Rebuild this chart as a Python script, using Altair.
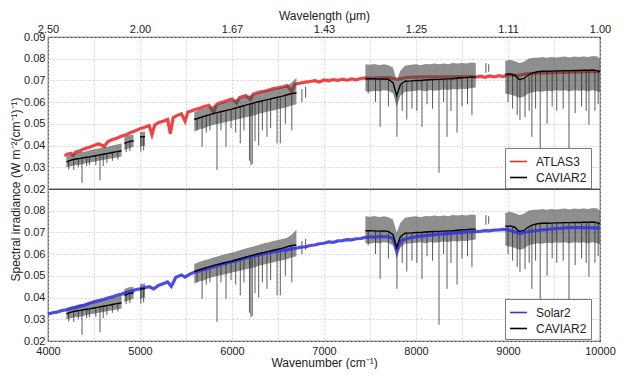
import altair as alt
import pandas as pd

# ---------------- data ----------------
atlas_wn = [4180, 4210, 4250, 4270, 4300, 4350, 4400, 4450, 4500, 4550, 4610, 4650, 4700, 4750,
            4800, 4850, 4900, 4950, 5000, 5050, 5100, 5130, 5160, 5200, 5250, 5300, 5330, 5360,
            5400, 5450, 5490, 5520, 5550, 5600, 5650, 5700, 5750, 5800, 5830, 5850, 5900, 5950,
            6000, 6050, 6080, 6100, 6150, 6200, 6230, 6250, 6300, 6350, 6400, 6450, 6500, 6550,
            6600, 6650, 6680, 6700, 6750, 6800, 6850, 6900, 6950, 7000, 7050, 7100, 7150, 7200,
            7250, 7300, 7350, 7400, 7450, 7500, 7600, 7700, 7800, 7900, 8000, 8100, 8200, 8300,
            8400, 8500, 8600, 8650, 8700, 8750, 8800, 8850, 8900, 8950, 9000, 9100, 9200, 9300,
            9400, 9500, 9600, 9700, 9800, 9900, 10000]
atlas_val = [.0352, .0360, .0364, .0355, .0370, .0376, .0386, .0392, .0400, .0408, .0396, .0418, .0428, .0434,
             .0444, .0450, .0460, .0468, .0478, .0484, .0492, .0450, .0495, .0505, .0512, .0520, .0455, .0528,
             .0538, .0546, .0512, .0554, .0558, .0566, .0572, .0580, .0585, .0552, .0588, .0594, .0600, .0608,
             .0614, .0596, .0620, .0624, .0630, .0612, .0636, .0640, .0646, .0650, .0656, .0662, .0666, .0670,
             .0676, .0650, .0680, .0684, .0688, .0692, .0695, .0699, .0693, .0702, .0698, .0704, .0700, .0706,
             .0701, .0707, .0703, .0709, .0712, .0710, .0712, .0713, .0705, .0714, .0715, .0716, .0716, .0717,
             .0717, .0718, .0718, .0715, .0720, .0714, .0721, .0716, .0722, .0718, .0726, .0722, .0730, .0733,
             .0735, .0736, .0737, .0738, .0739, .0740, .0740]

solar_wn = [4000, 4050, 4100, 4150, 4200, 4250, 4300, 4350, 4400, 4450, 4500, 4550, 4600, 4650, 4700,
            4750, 4800, 4850, 4900, 4950, 5000, 5050, 5100, 5150, 5200, 5250, 5300, 5340, 5390, 5450,
            5490, 5550, 5600, 5700, 5800, 5900, 6000, 6100, 6200, 6300, 6400, 6500, 6600, 6650, 6700,
            6750, 6800, 6850, 6900, 6950, 7000, 7050, 7100, 7150, 7200, 7250, 7300, 7350, 7400, 7450,
            7500, 7550, 7600, 7700, 7750, 7793, 7830, 7900, 8000, 8100, 8200, 8300, 8400, 8500, 8600,
            8700, 8750, 8800, 8850, 8900, 8950, 9000, 9076, 9130, 9200, 9336, 9500, 9663, 9800, 10000]
solar_val = [.0324, .0330, .0333, .0340, .0344, .0350, .0354, .0360, .0366, .0374, .0380, .0386, .0391, .0398, .0403,
             .0411, .0416, .0424, .0429, .0436, .0440, .0446, .0450, .0440, .0456, .0464, .0472, .0452, .0494, .0504,
             .0494, .0510, .0518, .0530, .0542, .0555, .0565, .0576, .0588, .0598, .0607, .0615, .0620, .0624, .0627,
             .0632, .0634, .0640, .0642, .0648, .0650, .0656, .0654, .0661, .0662, .0667, .0666, .0671, .0672, .0677,
             .0680, .0678, .0681, .0680, .0672, .0620, .0660, .0672, .0680, .0685, .0690, .0693, .0697, .0700, .0703,
             .0705, .0708, .0707, .0711, .0712, .0714, .0712, .0702, .0695, .0702, .0710, .0717, .0722, .0722, .0720]

# CAVIAR2: segment id, wavenumber, smoothed core, lower and upper edge of raw scatter
cav_seg = ["A1"] * 13 + ["A2"] * 3 + ["A3"] * 2 + ["B"] * 23 + ["C"] * 25 + ["D"] * 22
cav_wn = [4200, 4250, 4300, 4350, 4400, 4450, 4500, 4550, 4600, 4650, 4700, 4750, 4800,
          4830, 4880, 4930,
          5000, 5055,
          5590, 5650, 5700, 5750, 5800, 5850, 5900, 5950, 6000, 6050, 6100, 6150, 6200, 6250,
          6300, 6350, 6400, 6450, 6500, 6550, 6600, 6650, 6700,
          7450, 7500, 7550, 7600, 7650, 7700, 7750, 7790, 7830, 7880, 7950, 8000, 8050, 8100,
          8150, 8200, 8250, 8300, 8350, 8400, 8450, 8500, 8550, 8600, 8650,
          8970, 9020, 9070, 9120, 9170, 9220, 9270, 9320, 9370, 9420, 9470, 9520, 9570, 9620,
          9670, 9720, 9770, 9820, 9870, 9920, 9970, 10000]
cav_core = [.0325, .0333, .0338, .0341, .0345, .0348, .0352, .0356, .0360, .0364, .0368, .0372, .0376,
            .0410, .0418, .0422,
            .0440, .0442,
            .0520, .0528, .0535, .0541, .0548, .0553, .0558, .0563, .0568, .0574, .0580, .0586, .0592, .0598,
            .0603, .0608, .0613, .0618, .0623, .0628, .0634, .0640, .0642,
            .0708, .0708, .0707, .0706, .0707, .0705, .0690, .0630, .0680, .0696, .0698, .0700, .0700, .0702,
            .0703, .0704, .0705, .0706, .0707, .0708, .0710, .0712, .0713, .0715, .0715,
            .0728, .0730, .0725, .0705, .0708, .0725, .0735, .0740, .0742, .0742, .0743, .0744, .0744, .0745,
            .0745, .0746, .0746, .0747, .0747, .0748, .0745, .0740]
cav_lo = [.0300, .0305, .0310, .0312, .0318, .0322, .0325, .0330, .0333, .0338, .0342, .0345, .0350,
          .0380, .0388, .0395,
          .0395, .0400,
          .0465, .0475, .0480, .0490, .0495, .0500, .0505, .0510, .0515, .0520, .0525, .0530, .0535, .0540,
          .0548, .0552, .0558, .0562, .0568, .0572, .0578, .0585, .0590,
          .0650, .0648, .0652, .0650, .0655, .0652, .0640, .0580, .0630, .0648, .0650, .0652, .0655, .0650,
          .0655, .0652, .0655, .0658, .0656, .0660, .0658, .0662, .0660, .0665, .0668,
          .0640, .0635, .0630, .0620, .0625, .0640, .0645, .0650, .0648, .0652, .0650, .0655, .0652, .0655,
          .0650, .0655, .0652, .0655, .0650, .0655, .0650, .0645]
cav_hi = [.0350, .0358, .0365, .0370, .0372, .0378, .0383, .0386, .0392, .0395, .0400, .0405, .0410,
          .0440, .0448, .0450,
          .0462, .0465,
          .0555, .0565, .0572, .0578, .0585, .0590, .0597, .0602, .0608, .0613, .0620, .0626, .0632, .0638,
          .0643, .0650, .0655, .0660, .0665, .0670, .0676, .0690, .0712,
          .0775, .0772, .0776, .0770, .0774, .0770, .0760, .0700, .0745, .0768, .0772, .0775, .0770, .0776,
          .0774, .0778, .0775, .0778, .0775, .0780, .0778, .0780, .0778, .0782, .0780,
          .0790, .0795, .0790, .0780, .0785, .0800, .0805, .0805, .0808, .0805, .0808, .0806, .0808, .0810,
          .0806, .0810, .0808, .0810, .0808, .0812, .0810, .0800]

# absorption spikes / isolated raw points: wavenumber, bottom, top
spike_wn = [4225, 4280, 4330, 4370, 4420, 4450, 4520, 4565, 4600, 4640, 4700, 4760, 4850, 4890, 5010, 5040,
            5620, 5675, 5720, 5760, 5837, 5880, 5935, 5990, 6040, 6090, 6130, 6190, 6205, 6220, 6250,
            6290, 6330, 6380, 6420, 6490, 6525, 6580, 6650, 6760, 6800,
            7480, 7560, 7610, 7700, 7793, 7850, 7900, 7956, 8010, 8065, 8120, 8180, 8250, 8300, 8337,
            8380, 8446, 8500, 8560, 8608, 8760, 8790,
            9000, 9050, 9100, 9130, 9185, 9230, 9260, 9300, 9350, 9425, 9480, 9530, 9600, 9663, 9730,
            9800, 9850, 9880, 9945, 9980]
spike_lo = [.0290, .0288, .0300, .0228, .0305, .0310, .0310, .0240, .0305, .0320, .0330, .0335, .0370, .0375, .0372, .0378,
            .0470, .0394, .0460, .0470, .0288, .0470, .0394, .0480, .0460, .0410, .0470, .0330, .0310, .0315, .0420,
            .0400, .0470, .0440, .0480, .0410, .0410, .0500, .0470, .0600, .0620,
            .0640, .0600, .0486, .0580, .0440, .0560, .0520, .0570, .0560, .0486, .0590, .0570, .0274, .0600, .0440,
            .0560, .0460, .0580, .0590, .0540, .0735, .0740,
            .0600, .0570, .0540, .0518, .0530, .0560, .0440, .0570, .0300, .0500, .0580, .0560, .0570, .0300, .0550,
            .0580, .0560, .0495, .0560, .0590]
spike_hi = [.0330, .0336, .0340, .0342, .0346, .0348, .0353, .0357, .0360, .0364, .0368, .0373, .0412, .0418, .0440, .0442,
            .0525, .0530, .0536, .0542, .0550, .0555, .0562, .0566, .0573, .0578, .0584, .0590, .0592, .0594, .0598,
            .0602, .0606, .0610, .0614, .0622, .0625, .0630, .0640, .0660, .0670,
            .0708, .0707, .0706, .0706, .0630, .0680, .0696, .0698, .0700, .0700, .0702, .0703, .0705, .0706, .0707,
            .0708, .0710, .0712, .0713, .0715, .0780, .0775,
            .0729, .0730, .0715, .0705, .0706, .0720, .0727, .0738, .0741, .0742, .0743, .0744, .0745, .0745, .0746,
            .0746, .0747, .0747, .0748, .0745]

yticks_top = [0.02, 0.03, 0.04, 0.05, 0.06, 0.07, 0.08, 0.09]
yticks_bottom = [0.02, 0.03, 0.04, 0.05, 0.06, 0.07, 0.08]

# ---------------- frames ----------------
atlas_df = pd.DataFrame({"wn": atlas_wn, "val": atlas_val, "series": "ATLAS3"})
solar_df = pd.DataFrame({"wn": solar_wn, "val": solar_val, "series": "Solar2"})
cav_df = pd.DataFrame({"seg": cav_seg, "wn": cav_wn, "core": cav_core, "lo": cav_lo,
                       "hi": cav_hi, "series": "CAVIAR2"})
spike_df = pd.DataFrame({"wn": spike_wn, "lo": spike_lo, "hi": spike_hi})

FONT = "Liberation Sans"
W, H = 552, 152
XDOM = [4000, 10000]
YDOM = [0.02, 0.09]
xticks = list(range(4000, 10001, 500))


def panel(top, line_df, name, color, leg_y):
    if top:
        xaxis = alt.Axis(orient="top", values=xticks, title="Wavelength (μm)",
                         labelExpr="datum.value % 1000 == 0 ? format(10000 / datum.value, '.2f') : ''",
                         labelFlush=False, labelOverlap=False, titlePadding=1, labelPadding=3)
        yaxis = alt.Axis(values=yticks_top, format=".2f",
                         title="Spectral irradiance (W m⁻²(cm⁻¹)⁻¹)", titleY=H, titleAnchor="middle",
                         titleAlign="center", titlePadding=1, labelPadding=3, labelOverlap=False)
    else:
        xaxis = alt.Axis(orient="bottom", values=xticks, title="Wavenumber (cm⁻¹)",
                         labelExpr="datum.value % 1000 == 0 ? format(datum.value, 'd') : ''",
                         labelFlush=False, labelOverlap=False, titlePadding=1, labelPadding=4)
        yaxis = alt.Axis(values=yticks_bottom, format=".2f", title=None, labelPadding=3,
                         labelOverlap=False)

    xs = alt.Scale(domain=XDOM, nice=False, zero=False)
    ys = alt.Scale(domain=YDOM, nice=False, zero=False)

    def X():
        return alt.X("wn:Q", scale=xs, axis=xaxis)

    def Y(f):
        return alt.Y(f, type="quantitative", scale=ys, axis=yaxis)

    cscale = alt.Scale(domain=[name, "CAVIAR2"], range=[color, "#000000"])
    legend = alt.Legend(orient="none", legendX=457, legendY=leg_y, title=None,
                        symbolType="stroke", symbolStrokeWidth=1.6, symbolSize=290,
                        fillColor="white", strokeColor="#7a7a7a", padding=4, rowPadding=0,
                        labelFontSize=12, labelFont=FONT, labelColor="#222", zindex=1,
                        symbolOpacity=1, labelOffset=8)

    ref = alt.Chart(line_df).mark_line(strokeWidth=3.2, opacity=0.88).encode(
        x=X(), y=Y("val"),
        color=alt.Color("series:N", scale=cscale, legend=legend),
    )
    band = alt.Chart(cav_df).mark_area(color="#4a4a4a", opacity=0.62).encode(
        x=X(), y=Y("lo"), y2="hi:Q", detail="seg:N")
    spikes = alt.Chart(spike_df).mark_rule(color="#262626", opacity=0.75, strokeWidth=1).encode(
        x=X(), y=Y("lo"), y2="hi:Q")
    core = alt.Chart(cav_df).mark_line(strokeWidth=1.4).encode(
        x=X(), y=Y("core"), detail="seg:N",
        color=alt.Color("series:N", scale=cscale, legend=legend))

    layers = [ref, band, spikes, core] if top else [band, spikes, ref, core]
    return alt.layer(*layers).properties(width=W, height=H)


top = panel(True, atlas_df, "ATLAS3", "#ee2a2a", 111)
bottom = panel(False, solar_df, "Solar2", "#3434e0", 110)

chart = alt.vconcat(top, bottom, spacing=0, bounds="flush").resolve_scale(
    color="independent", x="independent", y="independent"
).resolve_legend(color="independent").properties(
    padding={"left": 0, "top": 0, "right": 10, "bottom": 0}, background="white"
).configure_view(
    stroke="#4d4d4d", strokeWidth=1.2
).configure_axis(
    domain=False, ticks=False, labelPadding=4, grid=True, gridColor="#c8c8c8",
    gridDash=[2, 2], gridWidth=0.8, labelFont=FONT, titleFont=FONT, labelFontSize=11,
    titleFontSize=12, titleFontWeight="normal", labelColor="#222", titleColor="#222"
)

chart.save("out.html", embed_options={"renderer": "svg", "actions": False})
